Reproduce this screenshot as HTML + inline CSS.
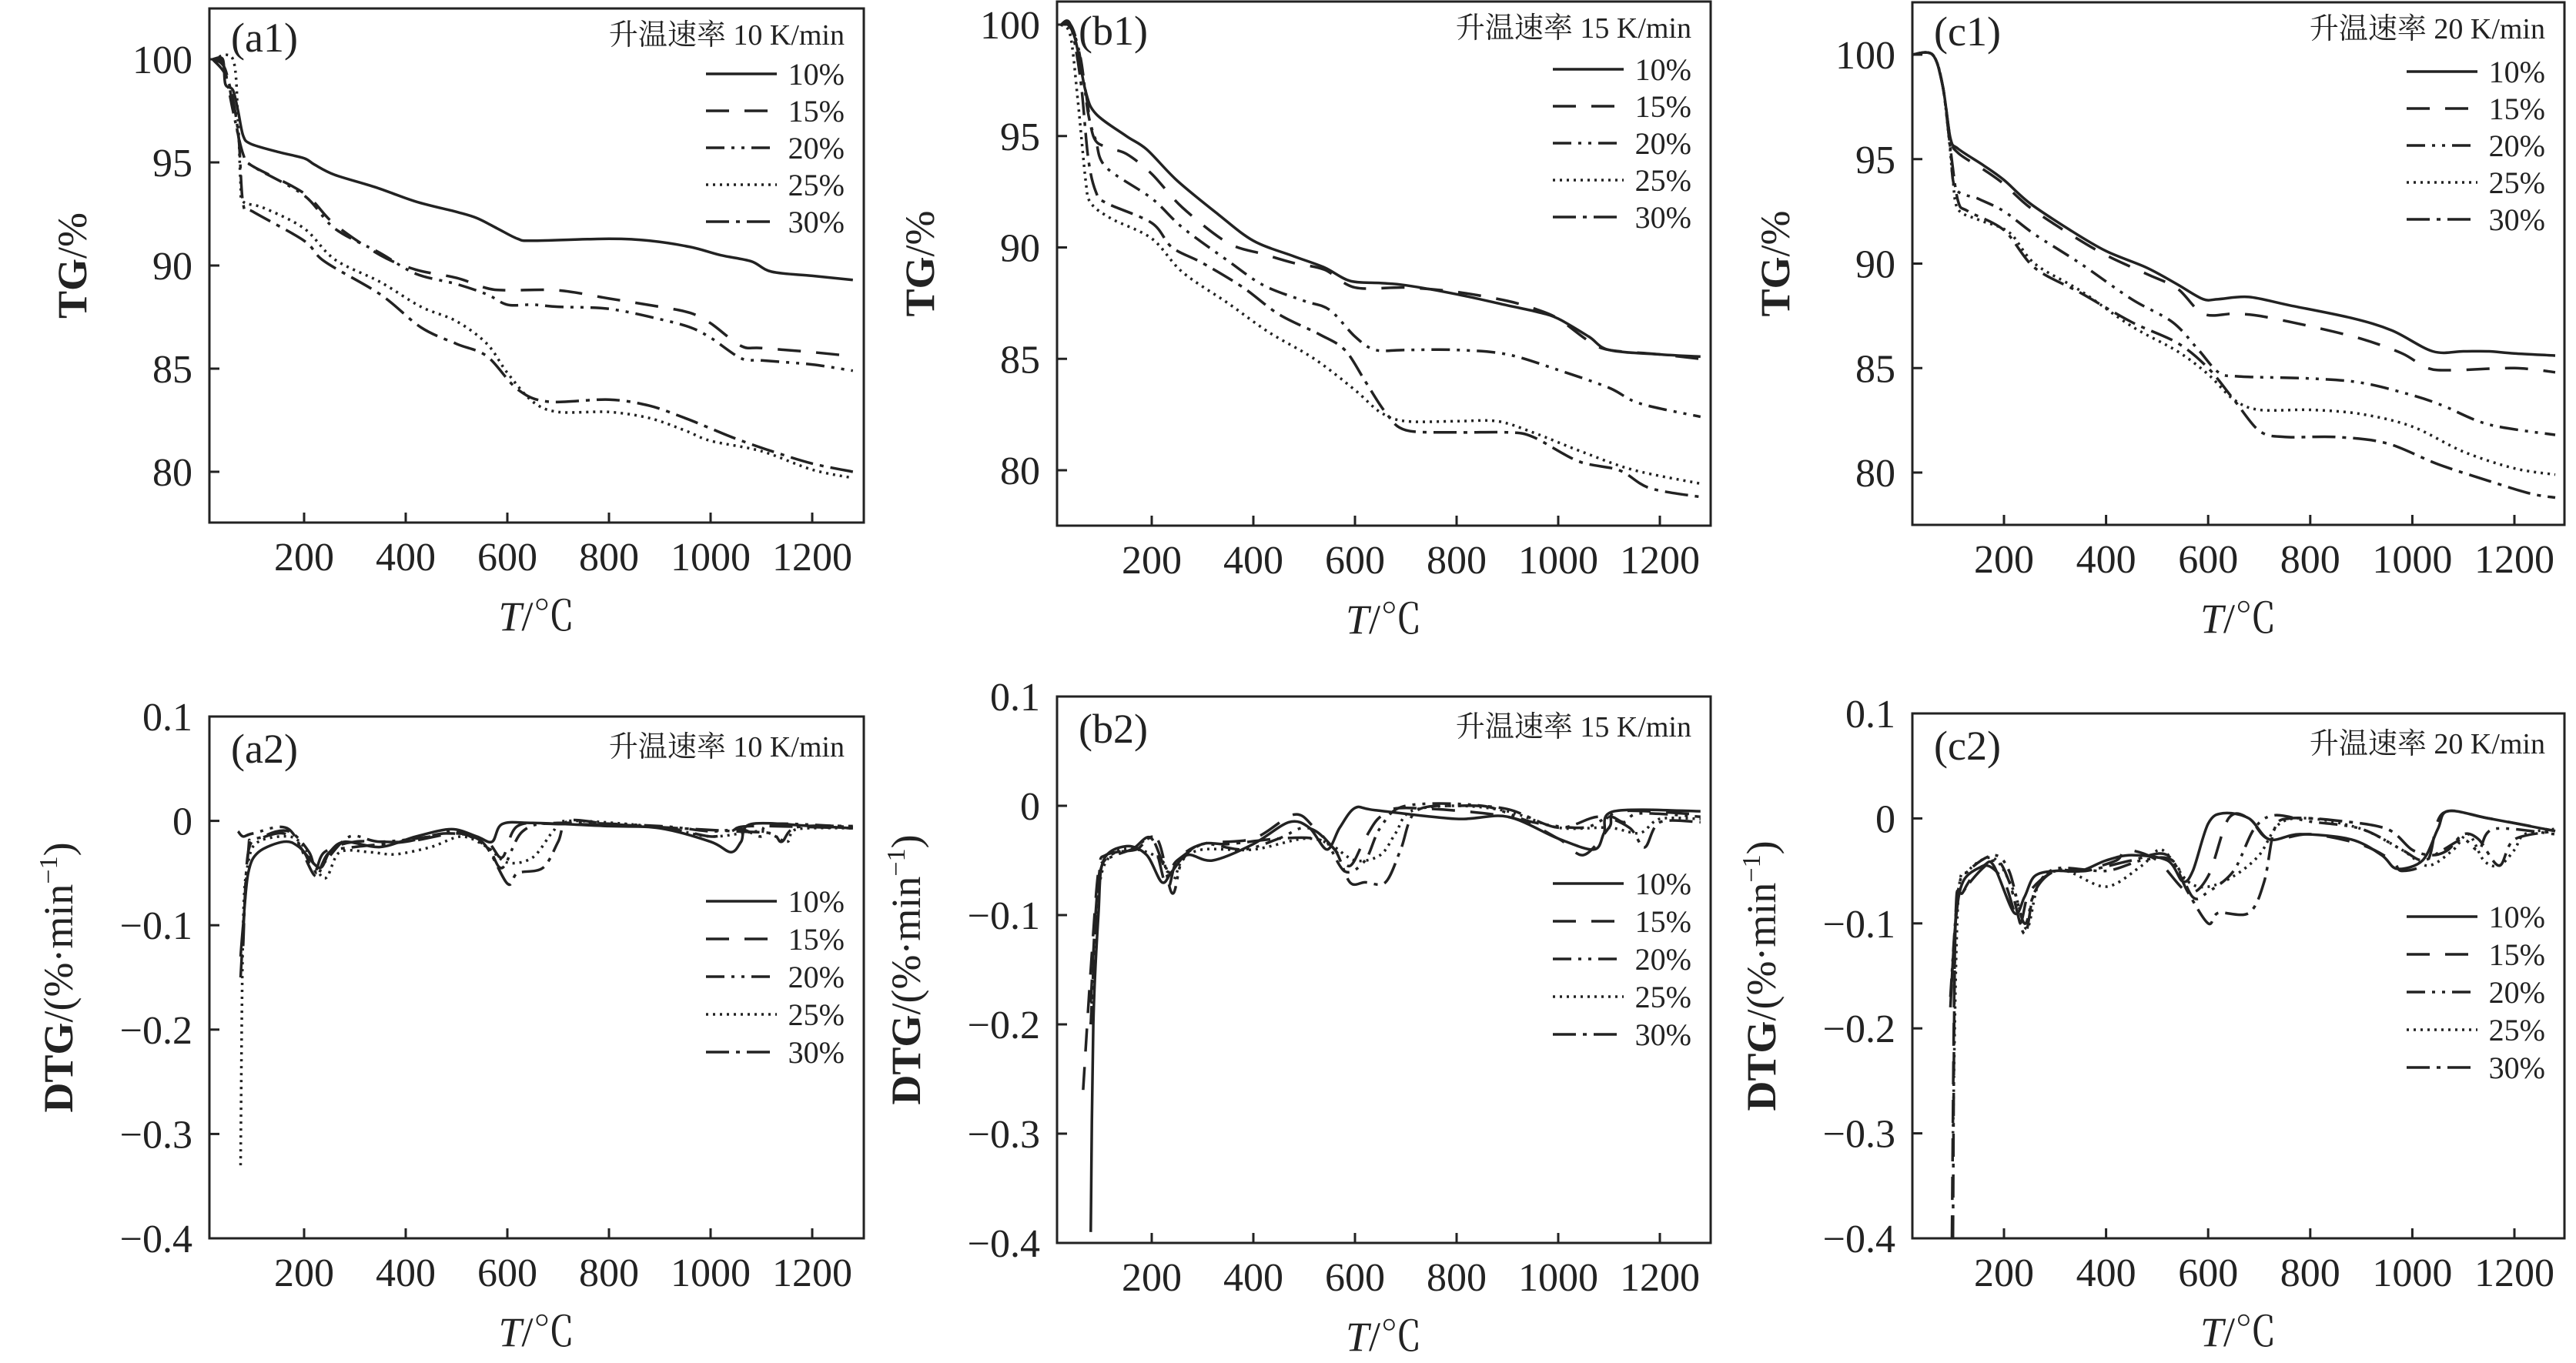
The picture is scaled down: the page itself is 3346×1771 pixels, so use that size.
<!DOCTYPE html>
<html><head><meta charset="utf-8"><style>
html,body{margin:0;padding:0;background:#fff;}
svg{display:block;}
text{font-family:"Liberation Serif","Noto Serif CJK SC","Noto Sans CJK SC",serif;fill:#222;}
</style></head><body>
<svg id="s" xmlns="http://www.w3.org/2000/svg" width="3346" height="1771" viewBox="0 0 3346 1771"></svg>
<script>
const P=[
 {id:'a1',L:272,R:1122,T:11,B:679,xp:395,xs:0.66,yv:100,yp:77,ys:26.8,row:0,lab:'(a1)',rate:'升温速率 10 K/min',leg:85},
 {id:'b1',L:1373,R:2222,T:2,B:683,xp:1496,xs:0.66,yv:100,yp:32,ys:28.95,row:0,lab:'(b1)',rate:'升温速率 15 K/min',leg:88},
 {id:'c1',L:2484,R:3331,T:3,B:682,xp:2603,xs:0.663,yv:100,yp:71,ys:27.15,row:0,lab:'(c1)',rate:'升温速率 20 K/min',leg:90},
 {id:'a2',L:272,R:1122,T:931,B:1609,xp:395,xs:0.66,yv:0.1,yp:931,ys:1356,row:1,lab:'(a2)',rate:'升温速率 10 K/min',leg:240},
 {id:'b2',L:1373,R:2222,T:905,B:1615,xp:1496,xs:0.66,yv:0.1,yp:905,ys:1420,row:1,lab:'(b2)',rate:'升温速率 15 K/min',leg:243},
 {id:'c2',L:2484,R:3331,T:927,B:1609,xp:2603,xs:0.663,yv:0.1,yp:927,ys:1364,row:1,lab:'(c2)',rate:'升温速率 20 K/min',leg:264}
];
const D={
a1:[
[[20,100],[40,100],[45,98.8],[60,98.5],[70,97.5],[80,96.3],[95,95.9],[150,95.5],[200,95.2],[220,94.9],[260,94.4],[340,93.8],[420,93.1],[500,92.6],[540,92.3],[580,91.8],[620,91.3],[650,91.2],[800,91.3],[880,91.2],[960,90.9],[1020,90.5],[1080,90.2],[1120,89.7],[1200,89.5],[1280,89.3]],
[[20,100],[45,99.5],[65,97],[80,95.3],[100,94.8],[200,93.5],[260,92],[350,90.5],[420,89.8],[500,89.4],[560,88.9],[600,88.8],[700,88.8],[800,88.4],[900,88],[960,87.7],[1000,87.2],[1060,86.1],[1100,86],[1200,85.8],[1280,85.6]],
[[20,100],[40,99.8],[60,97.5],[80,95.4],[100,94.8],[200,93.4],[260,91.8],[350,90.6],[420,89.6],[500,89.1],[560,88.6],[600,88.1],[650,88.1],[700,88],[800,87.9],[900,87.4],[960,87],[1000,86.5],[1060,85.5],[1100,85.4],[1200,85.2],[1280,84.9]],
[[20,100],[60,100],[70,97],[75,94],[80,93.1],[120,92.8],[200,91.8],[260,90.3],[350,89.2],[430,88],[500,87.3],[560,86.2],[600,84.8],[650,83.4],[700,82.9],[800,82.9],[880,82.6],[950,82],[1000,81.5],[1100,81],[1200,80.1],[1280,79.7]],
[[20,100],[50,99],[70,96.5],[80,93],[100,92.6],[200,91.2],[240,90.2],[350,88.6],[430,87],[500,86.2],[560,85.6],[620,84],[680,83.4],[800,83.5],[880,83.2],[950,82.6],[1000,82.1],[1050,81.6],[1120,81],[1200,80.4],[1280,80]]],
b1:[
[[21,100],[35,100],[50,99.3],[70,97],[90,96],[150,95],[190,94.4],[250,93],[330,91.5],[400,90.3],[480,89.6],[540,89.1],[590,88.5],[650,88.4],[700,88.3],[800,87.9],[900,87.4],[960,87.1],[1000,86.8],[1060,86],[1100,85.4],[1200,85.2],[1280,85.1]],
[[21,100],[40,100],[55,99],[70,97],[85,95],[110,94.5],[150,94.2],[200,93.3],[260,91.8],[350,90.2],[420,89.7],[480,89.3],[540,89],[600,88.2],[700,88.2],[800,88],[900,87.6],[960,87.2],[1000,86.8],[1060,85.8],[1100,85.4],[1200,85.2],[1280,85]],
[[21,100],[40,100],[60,98.5],[75,96],[90,94.8],[110,93.6],[200,92.2],[260,90.9],[350,89.4],[420,88.3],[500,87.6],[550,87.2],[600,86],[640,85.4],[700,85.4],[800,85.4],[900,85.2],[1000,84.5],[1100,83.7],[1160,83],[1280,82.4]],
[[21,100],[40,99.5],[55,96.5],[70,93],[80,92],[120,91.3],[200,90.4],[260,88.9],[350,87.5],[430,86.2],[520,85],[600,83.6],[650,82.6],[700,82.2],[800,82.2],[880,82.2],[950,81.7],[1050,80.8],[1150,80],[1280,79.4]],
[[21,100],[40,100],[60,97.5],[75,94],[90,92.5],[110,92],[200,91.1],[240,90],[300,89.3],[380,88.2],[450,87],[530,86.1],[580,85.4],[620,84],[660,82.6],[700,81.8],[800,81.7],[900,81.7],[950,81.5],[1040,80.4],[1120,80],[1180,79.2],[1280,78.8]]],
c1:[
[[20,100],[60,100],[80,98.5],[95,96],[110,95.5],[160,94.7],[200,94],[250,92.9],[330,91.6],[400,90.6],[480,89.8],[540,89],[590,88.3],[620,88.3],[680,88.4],[760,88],[880,87.4],[960,86.8],[1040,85.8],[1100,85.8],[1150,85.8],[1200,85.7],[1280,85.6]],
[[20,100],[60,100],[80,98.5],[95,96],[110,95.3],[160,94.5],[200,93.8],[250,92.7],[330,91.4],[400,90.4],[480,89.5],[540,88.8],[590,87.6],[650,87.6],[700,87.5],[800,87],[900,86.4],[980,85.7],[1030,85],[1080,84.9],[1200,85],[1280,84.8]],
[[20,100],[60,100],[80,98.5],[95,95.5],[105,93.6],[150,93.1],[200,92.5],[260,91.4],[350,90],[450,88.3],[530,87.2],[580,85.9],[620,84.8],[660,84.6],[800,84.5],[900,84.3],[1000,83.7],[1060,83.2],[1150,82.3],[1280,81.8]],
[[20,100],[60,100],[80,98.5],[93,95.8],[100,94],[110,92.6],[150,92.1],[210,91.5],[260,90],[350,88.7],[450,87],[540,85.8],[600,84.7],[650,83.5],[700,83],[800,83],[900,82.8],[1000,82.2],[1100,81],[1200,80.2],[1280,79.9]],
[[20,100],[60,100],[80,98.5],[95,95.5],[110,93],[130,92.5],[200,91.6],[260,89.8],[350,88.6],[450,87.2],[540,86.2],[600,85],[650,83.5],[700,82],[750,81.7],[850,81.7],[950,81.4],[1050,80.4],[1150,79.6],[1230,79],[1280,78.8]]],
a2:[
[[75,-0.13],[80,-0.1],[90,-0.05],[110,-0.03],[160,-0.02],[190,-0.025],[230,-0.045],[250,-0.03],[280,-0.02],[350,-0.025],[420,-0.015],[490,-0.008],[540,-0.015],[570,-0.02],[590,-0.003],[650,-0.002],[800,-0.005],[900,-0.007],[1000,-0.02],[1040,-0.03],[1060,-0.02],[1080,-0.003],[1200,-0.005],[1280,-0.007]],
[[75,-0.15],[90,-0.03],[100,-0.02],[160,-0.012],[200,-0.03],[220,-0.05],[240,-0.03],[300,-0.02],[400,-0.02],[500,-0.012],[560,-0.02],[590,-0.035],[620,-0.005],[700,-0.003],[900,-0.006],[1000,-0.015],[1040,-0.01],[1080,-0.005],[1280,-0.007]],
[[70,-0.01],[80,-0.015],[100,-0.012],[170,-0.008],[220,-0.052],[240,-0.04],[290,-0.015],[350,-0.02],[450,-0.015],[500,-0.01],[560,-0.025],[590,-0.045],[630,-0.01],[700,-0.002],[900,-0.005],[1000,-0.01],[1060,-0.008],[1100,-0.015],[1120,-0.003],[1280,-0.006]],
[[75,-0.33],[80,-0.1],[90,-0.04],[110,-0.02],[170,-0.015],[200,-0.025],[240,-0.055],[270,-0.03],[330,-0.03],[380,-0.032],[450,-0.025],[510,-0.015],[560,-0.025],[600,-0.04],[650,-0.035],[690,-0.01],[720,0],[900,-0.006],[1000,-0.015],[1100,-0.01],[1150,-0.02],[1170,-0.008],[1280,-0.007]],
[[80,-0.12],[90,-0.03],[120,-0.015],[170,-0.01],[210,-0.03],[225,-0.05],[250,-0.03],[300,-0.025],[400,-0.02],[480,-0.012],[550,-0.02],[600,-0.06],[620,-0.05],[670,-0.045],[700,-0.02],[720,0],[800,-0.003],[900,-0.006],[1050,-0.01],[1120,-0.012],[1140,-0.02],[1170,-0.006],[1280,-0.005]]],
b2:[
[[80,-0.39],[85,-0.2],[95,-0.1],[105,-0.05],[150,-0.037],[190,-0.045],[220,-0.07],[240,-0.06],[270,-0.045],[320,-0.05],[400,-0.035],[470,-0.015],[510,-0.02],[545,-0.04],[570,-0.02],[600,-0.002],[640,-0.004],[800,-0.012],[900,-0.01],[1000,-0.03],[1070,-0.04],[1090,-0.025],[1110,-0.005],[1280,-0.005]],
[[65,-0.26],[80,-0.15],[95,-0.06],[110,-0.045],[160,-0.04],[200,-0.03],[230,-0.075],[250,-0.05],[300,-0.035],[400,-0.03],[480,-0.008],[520,-0.02],[560,-0.04],[590,-0.055],[620,-0.03],[650,-0.01],[700,-0.002],[900,-0.01],[1000,-0.03],[1050,-0.045],[1100,-0.02],[1120,-0.005],[1280,-0.008]],
[[80,-0.2],[95,-0.07],[110,-0.05],[160,-0.04],[210,-0.03],[240,-0.08],[260,-0.05],[300,-0.035],[380,-0.04],[450,-0.03],[500,-0.02],[540,-0.03],[580,-0.06],[620,-0.05],[650,-0.02],[700,0],[850,0],[950,-0.015],[1050,-0.02],[1100,-0.01],[1130,-0.015],[1160,-0.007],[1280,-0.01]],
[[80,-0.2],[95,-0.08],[120,-0.045],[170,-0.04],[220,-0.05],[240,-0.07],[260,-0.05],[300,-0.04],[400,-0.04],[500,-0.03],[550,-0.035],[600,-0.05],[650,-0.045],[680,-0.025],[710,-0.005],[800,0],[900,-0.005],[1000,-0.02],[1100,-0.02],[1160,-0.025],[1200,-0.012],[1280,-0.012]],
[[80,-0.18],[95,-0.07],[120,-0.045],[170,-0.04],[200,-0.03],[230,-0.06],[250,-0.05],[300,-0.035],[350,-0.035],[450,-0.03],[520,-0.03],[560,-0.04],[590,-0.07],[620,-0.07],[660,-0.07],[690,-0.04],[720,-0.005],[800,0],[900,-0.003],[1000,-0.02],[1080,-0.01],[1140,-0.02],[1170,-0.038],[1200,-0.015],[1280,-0.015]]],
c2:[
[[95,-0.18],[105,-0.1],[120,-0.06],[160,-0.045],[180,-0.045],[220,-0.09],[240,-0.075],[260,-0.055],[300,-0.05],[350,-0.05],[400,-0.04],[450,-0.035],[520,-0.04],[550,-0.06],[570,-0.05],[600,-0.005],[630,0.005],[680,0],[720,-0.02],[780,-0.015],[880,-0.02],[940,-0.035],[970,-0.048],[1020,-0.04],[1050,-0.01],[1070,0.007],[1150,0],[1280,-0.012]],
[[98,-0.4],[105,-0.1],[120,-0.07],[160,-0.045],[200,-0.06],[230,-0.1],[250,-0.07],[300,-0.05],[350,-0.05],[420,-0.04],[440,-0.03],[500,-0.04],[560,-0.07],[600,-0.055],[640,0],[680,0],[720,-0.02],[800,-0.015],[900,-0.025],[960,-0.04],[980,-0.05],[1030,-0.04],[1060,0.005],[1150,0],[1280,-0.012]],
[[95,-0.17],[110,-0.07],[130,-0.05],[180,-0.035],[210,-0.05],[240,-0.1],[260,-0.07],[300,-0.048],[400,-0.05],[470,-0.04],[530,-0.04],[570,-0.075],[600,-0.07],[650,-0.05],[690,-0.01],[730,0.003],[800,-0.003],[900,-0.01],[980,-0.03],[1020,-0.04],[1060,-0.03],[1100,-0.02],[1130,-0.03],[1160,-0.01],[1280,-0.015]],
[[100,-0.3],[110,-0.08],[130,-0.05],[180,-0.038],[220,-0.07],[245,-0.105],[270,-0.06],[320,-0.05],[400,-0.065],[470,-0.045],[510,-0.03],[560,-0.06],[600,-0.065],[650,-0.055],[700,-0.035],[740,-0.005],[800,0],[900,-0.01],[980,-0.03],[1030,-0.045],[1080,-0.03],[1110,-0.015],[1140,-0.04],[1170,-0.045],[1200,-0.03],[1220,-0.015],[1280,-0.01]],
[[100,-0.4],[105,-0.1],[120,-0.07],[180,-0.04],[210,-0.06],[240,-0.11],[260,-0.07],[300,-0.05],[360,-0.05],[450,-0.04],[520,-0.035],[560,-0.07],[600,-0.1],[620,-0.09],[680,-0.09],[710,-0.06],[730,-0.01],[760,0],[850,-0.002],[950,-0.01],[1000,-0.03],[1040,-0.035],[1070,-0.03],[1100,-0.015],[1130,-0.02],[1170,-0.045],[1200,-0.02],[1280,-0.012]]]
};
const DA=['none','30 20','24 9 4 9 4 9','3 6','30 9 5 9'];
const NM=['10%','15%','20%','25%','30%'];
function smooth(pts){
 let d='M'+pts[0][0].toFixed(1)+','+pts[0][1].toFixed(1);
 for(let i=0;i<pts.length-1;i++){
  const p0=pts[Math.max(0,i-1)],p1=pts[i],p2=pts[i+1],p3=pts[Math.min(pts.length-1,i+2)];
  const k=0.16;
  const c1=[p1[0]+(p2[0]-p0[0])*k,p1[1]+(p2[1]-p0[1])*k];
  const c2=[p2[0]-(p3[0]-p1[0])*k,p2[1]-(p3[1]-p1[1])*k];
  d+='C'+c1.map(v=>v.toFixed(1)).join(',')+' '+c2.map(v=>v.toFixed(1)).join(',')+' '+p2[0].toFixed(1)+','+p2[1].toFixed(1);
 }
 return d;
}
let h='';
P.forEach((p,i)=>{
 const X=t=>p.xp+(t-200)*p.xs, Y=v=>p.yp+(p.yv-v)*p.ys;
 h+=`<clipPath id="c${i}"><rect x="${p.L}" y="${p.T}" width="${p.R-p.L}" height="${p.B-p.T}"/></clipPath>`;
 h+=`<rect x="${p.L}" y="${p.T}" width="${p.R-p.L}" height="${p.B-p.T}" fill="none" stroke="#222" stroke-width="3"/>`;
 for(let t=200;t<=1200;t+=200){const x=X(t);h+=`<line x1="${x}" y1="${p.B}" x2="${x}" y2="${p.B-13}" stroke="#222" stroke-width="3"/><text x="${x}" y="${p.B+62}" font-size="52" text-anchor="middle">${t}</text>`;}
 const yt=p.row==0?[[80,'80'],[85,'85'],[90,'90'],[95,'95'],[100,'100']]:[[0.1,'0.1'],[0,'0'],[-0.1,'−0.1'],[-0.2,'−0.2'],[-0.3,'−0.3'],[-0.4,'−0.4']];
 yt.forEach(([v,s])=>{const y=Y(v);h+=`<line x1="${p.L}" y1="${y}" x2="${p.L+13}" y2="${y}" stroke="#222" stroke-width="3"/><text x="${p.L-22}" y="${y+18}" font-size="52" text-anchor="end">${s}</text>`;});
 const cx=(p.L+p.R)/2, cy=(p.T+p.B)/2;
 h+=`<text x="${cx}" y="${p.B+140}" font-size="54" text-anchor="middle"><tspan font-style="italic">T</tspan>/℃</text>`;
 if(p.row==0) h+=`<text transform="translate(${p.L-160},${cy}) rotate(-90)" font-size="54" text-anchor="middle"><tspan font-weight="bold">TG</tspan>/%</text>`;
 else h+=`<text transform="translate(${p.L-178},${cy}) rotate(-90)" font-size="54" text-anchor="middle"><tspan font-weight="bold">DTG</tspan>/(%·min<tspan font-size="34" dy="-20">−1</tspan><tspan dy="20">)</tspan></text>`;
 h+=`<text x="${p.L+28}" y="${p.T+(p.row==0?56:60)}" font-size="54">${p.lab}</text>`;
 h+=`<text x="${p.R-25}" y="${p.T+(p.row==0?47:52)}" font-size="38" text-anchor="end">${p.rate}</text>`;
 for(let k=0;k<5;k++){const y=p.T+p.leg+k*(p.row==0?48:49);
  h+=`<line x1="${p.R-205}" y1="${y}" x2="${p.R-113}" y2="${y}" stroke="#222" stroke-width="3.5" stroke-dasharray="${DA[k]}"/><text x="${p.R-25}" y="${y+14}" font-size="40" text-anchor="end">${NM[k]}</text>`;}
 h+=`<g clip-path="url(#c${i})" fill="none" stroke="#222" stroke-width="3.5" stroke-linejoin="round">`;
 D[p.id].forEach((s,k)=>{h+=`<path d="${smooth(s.map(q=>[X(q[0]),Y(q[1])]))}" stroke-dasharray="${DA[k]}"/>`;});
 h+='</g>';
});
document.getElementById('s').innerHTML=h;
</script>
</body></html>
